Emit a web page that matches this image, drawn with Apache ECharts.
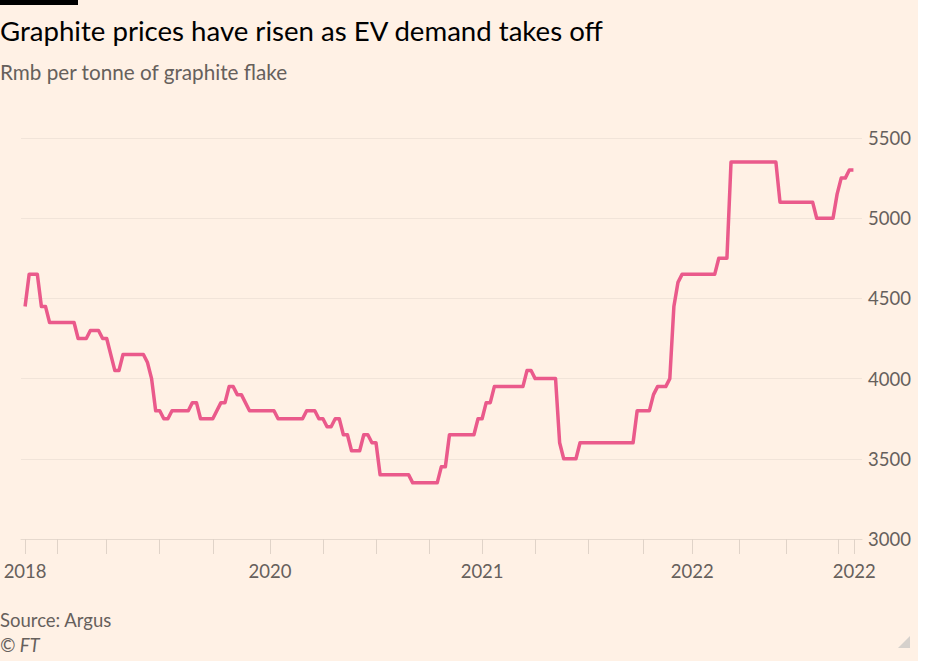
<!DOCTYPE html>
<html>
<head>
<meta charset="utf-8">
<script src="https://cdn.jsdelivr.net/npm/echarts@6/dist/echarts.min.js"></script>
<style>
  html, body { margin: 0; padding: 0; background: #ffffff; }
  #chart { width: 925px; height: 661px; }
</style>
</head>
<body>
<div id="chart"></div>
<script>
// Week index (0 = start of 2018 series) and price in Rmb per tonne, read at each turning point
const weeks = [0, 1, 3, 4, 5, 6, 12, 13, 15, 16, 18, 19, 20, 22, 23, 24, 29, 30, 31, 32, 33, 34, 35, 36, 40, 41, 42, 43, 46, 48, 49, 50, 51, 52, 53, 55, 61, 62, 68, 69, 71, 72, 73, 74, 75, 76, 77, 78, 79, 80, 82, 83, 84, 85, 86, 87, 94, 95, 101, 102, 103, 104, 110, 111, 112, 113, 114, 115, 122, 123, 124, 125, 130, 131, 132, 135, 136, 149, 150, 153, 154, 155, 157, 158, 159, 160, 161, 169, 170, 172, 173, 184, 185, 193, 194, 198, 199, 200, 201, 202, 203];
const prices = [4450, 4650, 4650, 4450, 4450, 4350, 4350, 4250, 4250, 4300, 4300, 4250, 4250, 4050, 4050, 4150, 4150, 4100, 4000, 3800, 3800, 3750, 3750, 3800, 3800, 3850, 3850, 3750, 3750, 3850, 3850, 3950, 3950, 3900, 3900, 3800, 3800, 3750, 3750, 3800, 3800, 3750, 3750, 3700, 3700, 3750, 3750, 3650, 3650, 3550, 3550, 3650, 3650, 3600, 3600, 3400, 3400, 3350, 3350, 3450, 3450, 3650, 3650, 3750, 3750, 3850, 3850, 3950, 3950, 4050, 4050, 4000, 4000, 3600, 3500, 3500, 3600, 3600, 3800, 3800, 3900, 3950, 3950, 4000, 4450, 4600, 4650, 4650, 4750, 4750, 5350, 5350, 5100, 5100, 5000, 5000, 5150, 5250, 5250, 5300, 5300];

// x-axis ticks and labels (week positions as in the original)
const tickWeeks = [0, 8, 20, 33, 46, 60, 73, 86, 99, 112, 125, 138, 151.5, 163.5, 175, 186.5, 199.3, 203.2];
const labelWeeks = [0, 60, 112, 163.5, 203.2];
const labelTexts = ['2018', '2020', '2021', '2022', '2022'];

// y-axis
const yMin = 3000, yMax = 5500, yStep = 500;

const FONT = 'Lato, "Noto Sans", sans-serif';
const chart = echarts.init(document.getElementById('chart'), null, { renderer: 'svg' });

const seriesData = weeks.map((w, i) => [w, prices[i]]);

chart.setOption({
  backgroundColor: '#fff1e5',
  animation: false,
  grid: { left: 21, right: 63, top: 138, bottom: 122 },
  xAxis: {
    type: 'value',
    min: -1,
    max: 205.1,
    splitLine: { show: false },
    axisLine: { show: true, lineStyle: { color: '#e6d9ce', width: 1 } },
    axisTick: {
      show: true,
      length: 15,
      customValues: tickWeeks,
      lineStyle: { color: '#e0d3c8', width: 1 }
    },
    axisLabel: {
      customValues: labelWeeks,
      margin: 22,
      fontFamily: FONT,
      fontSize: 18.5,
      color: '#66605c',
      formatter: function (v) {
        let best = 0, d = Infinity;
        labelWeeks.forEach((w, i) => { if (Math.abs(w - v) < d) { d = Math.abs(w - v); best = i; } });
        return labelTexts[best];
      }
    }
  },
  yAxis: {
    type: 'value',
    position: 'right',
    min: yMin,
    max: yMax,
    interval: yStep,
    axisLine: { show: false },
    axisTick: { show: false },
    splitLine: { show: true, lineStyle: { color: '#f1e4d9', width: 1 } },
    axisLabel: {
      margin: 6,
      fontFamily: FONT,
      fontSize: 18.5,
      color: '#66605c',
      formatter: function (v) { return String(v); }
    }
  },
  series: [{
    type: 'line',
    data: seriesData,
    showSymbol: false,
    lineStyle: { color: '#ea5a8b', width: 3.5, join: 'round' },
    itemStyle: { color: '#ea5a8b' }
  }],
  graphic: [
    { type: 'rect', left: 918, top: 0, shape: { width: 7, height: 661 }, style: { fill: '#ffffff' }, z: 100 },
    { type: 'rect', left: 0, top: 0, shape: { width: 78, height: 5 }, style: { fill: '#000000' } },
    { type: 'text', left: 0, top: 16, style: { text: 'Graphite prices have risen as EV demand takes off', font: '27.6px ' + FONT, fill: '#000000' } },
    { type: 'text', left: 0, top: 61, style: { text: 'Rmb per tonne of graphite flake', font: '20.7px ' + FONT, fill: '#66605c' } },
    { type: 'text', left: 0, top: 610, style: { text: 'Source: Argus', font: '18.5px ' + FONT, fill: '#66605c' } },
    { type: 'text', left: 0, top: 635, style: { text: '© FT', font: 'italic 18.5px ' + FONT, fill: '#66605c' } },
    { type: 'polygon', shape: { points: [[910, 636], [910, 648], [898, 648]] }, style: { fill: '#d6d1cc' } }
  ]
});
</script>
</body>
</html>
